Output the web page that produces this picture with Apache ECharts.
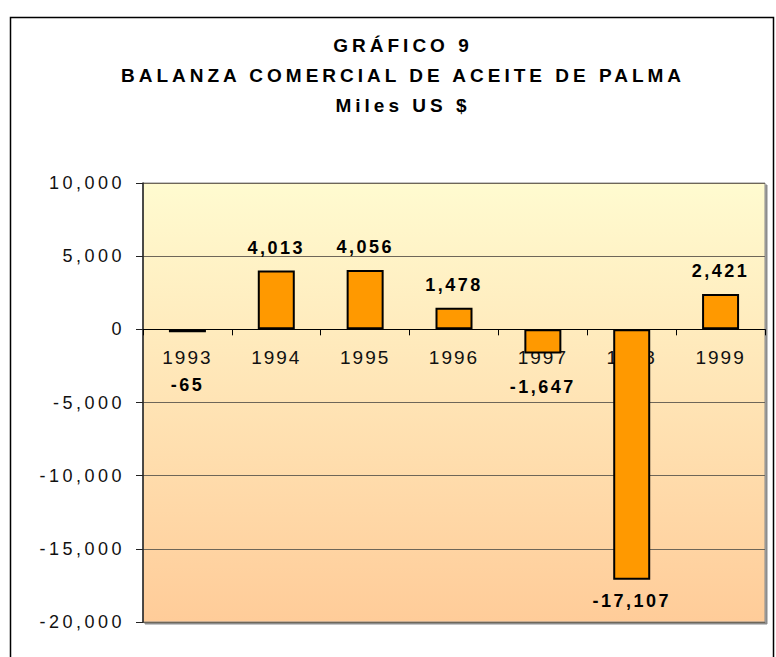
<!DOCTYPE html>
<html lang="es">
<head>
    <meta charset="UTF-8">
    <title>Gráfico 9</title>
    <style>
        * { margin: 0; padding: 0; }
        body { background: #fff; }
        #main { width: 776px; height: 657px; }
        /* espaciado de letras como en el grafico de Excel */
        #main svg text { letter-spacing: 3px; }
        #main svg text[style*="bold"][style*="19px"] { letter-spacing: 4px; }
        #main svg text[style*="bold"][style*="18px"] { letter-spacing: 2.5px; }
        #main svg text[style*="19px"]:not([style*="bold"]) { letter-spacing: 2px; }
        #main svg text[style*="18px"]:not([style*="bold"]) { letter-spacing: 3.5px; }
    </style>
</head>
<body>
    <div id="main"></div>
    <script src="https://cdn.jsdelivr.net/npm/echarts@6/dist/echarts.min.js"></script>
    <script>
        var years = ['1993', '1994', '1995', '1996', '1997', '1998', '1999'];
        var balance = [-65, 4013, 4056, 1478, -1647, -17107, 2421];
        var yTicks = [-20000, -15000, -10000, -5000, 0, 5000, 10000];
        // distancia de la etiqueta al extremo de cada barra (Excel las movio)
        var labelGap = [44, 14, 14, 14, 25, 12, 14];

        var chart = echarts.init(document.getElementById('main'), null, { renderer: 'svg' });

        function fmt(v) {
            return v.toLocaleString('en-US');
        }

        var barData = [];
        for (var i = 0; i < balance.length; i++) {
            barData.push({
                value: balance[i],
                label: {
                    position: balance[i] < 0 ? 'bottom' : 'top',
                    distance: labelGap[i]
                }
            });
        }

        var gridTop = 183, gridBottom = 35, H = 657;
        var plotH = H - gridTop - gridBottom;
        var yMin = yTicks[0], yMax = yTicks[yTicks.length - 1];
        // mover el eje x hasta la linea del cero
        var zeroShift = plotH * (0 - yMin) / (yMax - yMin);

        var option = {
            animation: false,
            title: {
                text: 'GRÁFICO 9\nBALANZA COMERCIAL DE ACEITE DE PALMA\nMiles US $',
                left: 398,
                top: 25,
                textAlign: 'center',
                textStyle: {
                    fontFamily: 'Liberation Sans',
                    fontWeight: 'bold',
                    fontSize: 19,
                    lineHeight: 30,
                    color: '#000'
                }
            },
            graphic: [{
                type: 'rect',
                shape: { x: 10.5, y: 17.5, width: 763, height: 700 },
                style: { fill: 'none', stroke: '#000', lineWidth: 1.5 },
                silent: true
            }],
            grid: {
                left: 143,
                top: gridTop,
                right: 11,
                bottom: gridBottom,
                show: true,
                borderColor: '#8a8a8a',
                borderWidth: 1,
                shadowColor: 'rgba(0,0,0,0.45)',
                shadowOffsetX: 2,
                shadowOffsetY: 2,
                shadowBlur: 0,
                backgroundColor: {
                    type: 'linear', x: 0, y: 0, x2: 0, y2: 1,
                    colorStops: [
                        { offset: 0, color: '#fffbd0' },
                        { offset: 1, color: '#ffcc99' }
                    ]
                }
            },
            xAxis: {
                type: 'category',
                data: years,
                offset: -zeroShift,
                axisLine: { onZero: false, lineStyle: { color: '#000', width: 1.2 } },
                axisTick: { show: true, inside: false, length: 6, lineStyle: { color: '#000' } },
                axisLabel: {
                    fontFamily: 'Liberation Sans',
                    fontSize: 19,
                    color: '#111',
                    margin: 19
                }
            },
            yAxis: {
                type: 'value',
                min: yMin,
                max: yMax,
                interval: 5000,
                axisLine: { show: true, lineStyle: { color: '#222', width: 1.5 } },
                axisTick: { show: true, length: 7, lineStyle: { color: '#222' } },
                splitLine: { show: true, lineStyle: { color: '#6e6658', width: 1 } },
                axisLabel: {
                    fontFamily: 'Liberation Sans',
                    fontSize: 18,
                    color: '#111',
                    margin: 18,
                    formatter: function (v) { return fmt(v); }
                }
            },
            series: [{
                type: 'bar',
                data: barData,
                barWidth: 37,
                barMinHeight: 3,
                itemStyle: {
                    color: '#ff9900',
                    borderColor: '#000',
                    borderWidth: 2
                },
                label: {
                    show: true,
                    fontFamily: 'Liberation Sans',
                    fontWeight: 'bold',
                    fontSize: 18,
                    color: '#000',
                    formatter: function (p) { return fmt(p.value); }
                }
            }]
        };

        chart.setOption(option);
    </script>
</body>
</html>
